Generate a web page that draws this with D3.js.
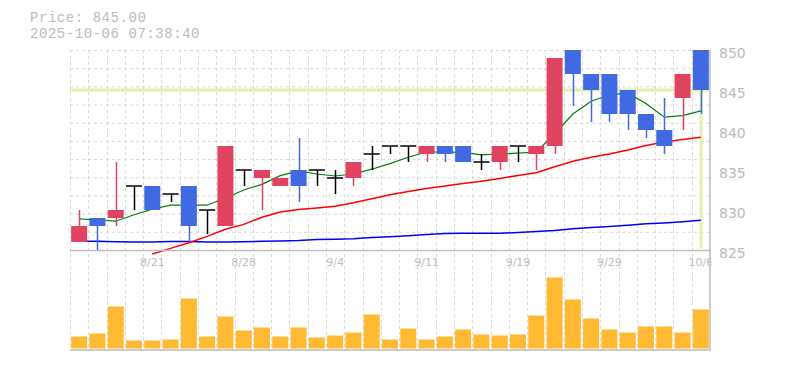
<!DOCTYPE html>
<html>
<head>
<meta charset="utf-8">
<script src="https://cdn.jsdelivr.net/npm/d3@7"></script>
<style>
  html, body { margin: 0; padding: 0; background: #fff; }
  svg { display: block; }
</style>
</head>
<body>
<svg id="chart" width="785" height="370"></svg>
<script>
// ---- data ----
const dates = ["8/15","8/18","8/19","8/20","8/21","8/22","8/25","8/26","8/27","8/28","8/29","9/1","9/2","9/3","9/4","9/5","9/8","9/9","9/10","9/11","9/12","9/16","9/17","9/18","9/19","9/22","9/24","9/25","9/26","9/29","9/30","10/1","10/2","10/3","10/6"];
const openP  = [826,829,829,833,833,832,833,830,828,835,834,833,835,835,834,834,837,838,838,837,838,838,836,836,838,837,838,850,847,847,845,842,840,844,850];
const highP  = [830,829,836,833,833,832,833,830,838,835,835,834,839,835,835,836,838,838,838,838,838,838,837,838,838,838,849,850,847,847,845,842,844,847,850];
const lowP   = [826,825,828,830,830,831,826,827,828,833,830,833,831,833,832,833,835,837,836,836,836,836,835,835,836,835,837,843,841,841,840,839,837,840,842];
const closeP = [828,828,830,833,830,832,828,830,838,835,835,834,833,835,834,836,837,838,838,838,837,836,836,838,838,838,849,847,845,842,842,840,838,847,845];
const volume = [1200,1500,4200,800,800,900,5000,1200,3200,1800,2100,1200,2100,1100,1300,1600,3400,900,2000,900,1200,1900,1400,1300,1400,3300,7100,4900,3000,1900,1600,2200,2200,1600,3900];
const maShort = [828.9,828.75,828.6,829.4,830.1,830.6,830.6,830.6,831.5,832.5,833.2,834.3,834.9,834.5,834.25,834.5,835.1,835.8,836.6,837.25,837.25,837.2,836.9,837.0,837.1,837.25,839.5,842.0,843.6,844.4,844.6,843.3,841.6,841.8,842.4];
const maMid = [null,null,null,null,824.5,825.2,825.9,826.7,827.6,828.2,829.1,829.75,830.06,830.25,830.46,830.9,831.4,831.9,832.3,832.7,833.0,833.3,833.6,833.95,834.3,834.66,835.4,836.1,836.6,837.0,837.5,838.06,838.5,838.8,839.1];
const maLong = [826.09,826.09,826.03,826.0,826.0,826.06,826.06,826.0,826.0,826.04,826.09,826.13,826.19,826.31,826.34,826.4,826.56,826.65,826.78,826.94,827.06,827.09,827.09,827.09,827.19,827.31,827.44,827.66,827.81,827.94,828.1,828.28,828.38,828.53,828.72];
const priceTicks = [825,830,835,840,845,850];
const dateTickLabels = ["8/21","8/28","9/4","9/11","9/19","9/29","10/6"];
const currentPrice = 845.00;
const headerLines = ["Price: 845.00", "2025-10-06 07:38:40"];

// ---- layout ----
const L = 70, R = 710, PT = 50, PB = 250, VT = 258.5, VB = 348.5, AXB = 350;
const svg = d3.select("#chart");

const x = d3.scaleBand().domain(dates).range([L, R]).paddingInner(0.125).paddingOuter(0.0625);
const step = x.step();
const bw = x.bandwidth();
const cx = d => x(d) + bw / 2;
const y = d3.scaleLinear().domain([825, 850]).range([PB, PT]);
const yv = d3.scaleLinear().domain([0, 9000]).range([VB, VT]);

const data = dates.map((d, i) => ({
  date: d, o: openP[i], h: highP[i], l: lowP[i], c: closeP[i], v: volume[i],
  m1: maShort[i], m2: maMid[i], m3: maLong[i]
}));

const defs = svg.append("defs");
defs.append("clipPath").attr("id", "plotclip").append("rect")
  .attr("x", L).attr("y", PT).attr("width", R - L).attr("height", 300);
defs.append("clipPath").attr("id", "labelclip").append("rect")
  .attr("x", 0).attr("y", 0).attr("width", 711.5).attr("height", 370);

const gridColor = "#d9d9d9";
// horizontal grid (price)
const g = svg.append("g");
d3.range(0, 11).forEach(k => {
  const yy = PT + k * (PB - PT) / 11;
  g.append("line").attr("x1", L).attr("x2", R).attr("y1", yy + 0.5).attr("y2", yy + 0.5)
    .attr("stroke", gridColor).attr("stroke-width", 1).attr("stroke-dasharray", "3,3");
});
// vertical grid
d3.range(0, 35).forEach(k => {
  const xx = Math.round(L + k * step) + 0.5;
  g.append("line").attr("x1", xx).attr("x2", xx).attr("y1", PT).attr("y2", AXB)
    .attr("stroke", gridColor).attr("stroke-width", 1).attr("stroke-dasharray", "3,3");
});

// current price lines
const lastDate = dates[dates.length - 1];
svg.append("line").attr("x1", L).attr("x2", R)
  .attr("y1", y(currentPrice)).attr("y2", y(currentPrice))
  .attr("stroke", "#e2f2a6").attr("stroke-width", 3);
svg.append("line").attr("x1", cx(lastDate)).attr("x2", cx(lastDate))
  .attr("y1", y(currentPrice)).attr("y2", PB - 1.5)
  .attr("stroke", "#e2f2a6").attr("stroke-width", 3);

// moving averages
const maG = svg.append("g").attr("clip-path", "url(#plotclip)");
function maLine(key, color, w) {
  const line = d3.line().defined(d => d[key] != null).x(d => cx(d.date)).y(d => y(d[key]));
  maG.append("path").datum(data).attr("d", line).attr("fill", "none")
    .attr("stroke", color).attr("stroke-width", w);
}
maLine("m3", "#0000ff", 1.5);
maLine("m2", "#ff0000", 1.5);
maLine("m1", "#008000", 1.2);

// candles
const upColor = "#e0435f", downColor = "#4169e1";
const cg = svg.append("g").attr("clip-path", "url(#plotclip)");
data.forEach(d => {
  const col = d.c > d.o ? upColor : (d.c < d.o ? downColor : "#000");
  const xc = Math.round(cx(d.date)) + 0.5;
  cg.append("line").attr("x1", xc).attr("x2", xc).attr("y1", y(d.h)).attr("y2", y(d.l))
    .attr("stroke", col).attr("stroke-width", 1.5);
  if (d.c === d.o) {
    cg.append("line").attr("x1", x(d.date)).attr("x2", x(d.date) + bw)
      .attr("y1", y(d.o)).attr("y2", y(d.o)).attr("stroke", "#000").attr("stroke-width", 1.5);
  } else {
    const top = y(Math.max(d.o, d.c)), bot = y(Math.min(d.o, d.c));
    cg.append("rect").attr("x", x(d.date)).attr("y", top).attr("width", bw)
      .attr("height", bot - top).attr("fill", col);
  }
});

// volume bars
svg.append("g").selectAll("rect").data(data).join("rect")
  .attr("x", d => x(d.date)).attr("y", d => yv(d.v))
  .attr("width", bw).attr("height", d => yv(0) - yv(d.v))
  .attr("fill", "#ffb933");

// axes lines
const axisColor = "#bdbdbd";
svg.append("line").attr("x1", L).attr("x2", R + 1).attr("y1", PB + 0.5).attr("y2", PB + 0.5)
  .attr("stroke", axisColor).attr("stroke-width", 1.5);
svg.append("line").attr("x1", L).attr("x2", R + 1).attr("y1", AXB).attr("y2", AXB)
  .attr("stroke", axisColor).attr("stroke-width", 1.5);
svg.append("line").attr("x1", R).attr("x2", R).attr("y1", PT).attr("y2", AXB)
  .attr("stroke", axisColor).attr("stroke-width", 1.5);

// y axis labels
const yAxis = d3.axisRight(y).tickValues(priceTicks).tickSize(0).tickPadding(0).tickFormat(d3.format("d"));
const ya = svg.append("g").attr("transform", `translate(${R + 9},0)`).call(yAxis);
ya.select(".domain").remove();
ya.selectAll("text").attr("font-family", "DejaVu Sans").attr("font-size", 14)
  .attr("fill", "#bbbbbb").attr("dy", "0.55em").attr("x", 0);

// x axis labels
const xAxis = d3.axisBottom(x).tickValues(dateTickLabels).tickSize(0).tickPadding(0);
const xa = svg.append("g").attr("transform", `translate(0,${PB})`).attr("clip-path", "url(#labelclip)").call(xAxis);
xa.select(".domain").remove();
xa.selectAll("text").attr("font-family", "DejaVu Sans").attr("font-size", 11)
  .attr("fill", "#bdbdbd").attr("y", 15.7).attr("dy", 0);

// header
svg.append("g").selectAll("text").data(headerLines).join("text")
  .attr("x", 30).attr("y", (d, i) => 22 + i * 16)
  .attr("font-family", "Liberation Mono").attr("font-size", 14)
  .attr("letter-spacing", 0.55)
  .attr("fill", "#bbbbbb").text(d => d);
</script>
</body>
</html>
